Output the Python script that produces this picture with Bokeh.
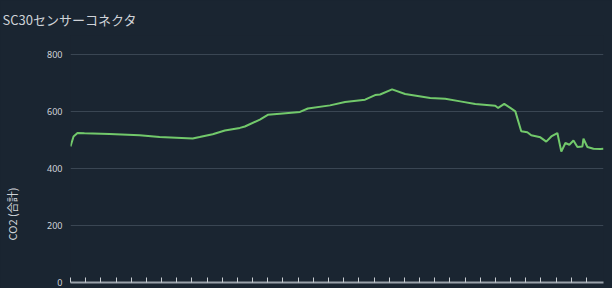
from bokeh.plotting import figure
from bokeh.models import Range1d, FixedTicker, LinearAxis
from bokeh.embed import file_html
from bokeh.resources import INLINE

# time in hours since start (x), CO2 total (ppm)
hours = [0.0, 0.2, 0.46, 0.92, 2.57, 4.55, 5.87, 8.05, 8.51, 9.37, 10.17, 11.16, 11.49,
         12.48, 13.0, 13.8, 15.12, 15.64, 17.1, 18.09, 19.41, 20.07, 20.4, 21.19, 22.05,
         23.7, 24.69, 25.68, 26.67, 27.99, 28.18, 28.58, 28.98, 29.31, 29.70, 30.1, 30.36,
         30.96, 31.35, 31.68, 32.08, 32.34, 32.61, 32.87, 33.14, 33.4, 33.73, 33.8, 34.06,
         34.46, 34.92, 35.12]
co2 = [477, 512, 524, 523, 521, 516, 510, 505, 510, 520, 533, 542, 547,
       571, 588, 592, 598, 610, 621, 633, 641, 657, 659, 677, 661,
       647, 644, 635, 626, 620, 612, 626, 612, 600, 530, 527, 516,
       509, 494, 512, 524, 459, 489, 483, 498, 475, 477, 504, 475,
       469, 468, 469]
x_ticks = list(range(0, 35))
y_ticks = [0, 200, 400, 600, 800]
title_text = "SC30センサーコネクタ"
y_label_text = "CO2 (合計)"

BG = "#1a2531"
TXT = "#cfd3d8"

p = figure(width=612, height=288, output_backend="svg", toolbar_location=None,
           x_range=Range1d(0, 35.12), y_range=Range1d(0, 866),
           min_border_left=70, min_border_right=9, min_border_top=0, min_border_bottom=6)
p.background_fill_color = BG
p.border_fill_color = BG
p.outline_line_color = None

p.title.text = title_text
p.title.align = "left"
p.title.offset = -68
p.title.text_color = TXT
p.title.text_font = "Noto Sans CJK JP"
p.title.text_font_size = "13px"
p.title.text_font_style = "normal"
p.title.standoff = 14

p.line(hours, co2, line_color="#72c96b", line_width=2)

p.xgrid.visible = False
p.ygrid.ticker = FixedTicker(ticks=y_ticks)
p.ygrid.grid_line_color = "#3a4653"
p.ygrid.grid_line_width = 1

p.yaxis.ticker = FixedTicker(ticks=y_ticks)
p.yaxis.axis_line_color = None
p.yaxis.major_tick_line_color = None
p.yaxis.major_tick_in = 0
p.yaxis.major_tick_out = 0
p.yaxis.minor_tick_line_color = None
p.yaxis.major_label_text_color = TXT
p.yaxis.major_label_text_font_size = "9px"
p.yaxis.major_label_text_font = "Noto Sans"
p.yaxis.major_label_standoff = 8

# separate left axis that only carries the axis title; ideographic spaces
# after the text move the visible words toward the lower part of the axis
label_axis = LinearAxis(ticker=FixedTicker(ticks=[]),
                        axis_label=y_label_text + "\u3000" * 10, axis_line_color=None,
                        major_tick_line_color=None, minor_tick_line_color=None,
                        major_tick_in=0, major_tick_out=0,
                        major_label_text_font_size="0px",
                        axis_label_standoff=25, axis_label_text_color=TXT,
                        axis_label_text_font="Noto Sans CJK JP",
                        axis_label_text_font_size="11px",
                        axis_label_text_font_style="normal")
p.add_layout(label_axis, "left")

p.xaxis.ticker = FixedTicker(ticks=x_ticks)
p.xaxis.axis_line_color = "#9aa2ab"
p.xaxis.axis_line_width = 2
p.xaxis.major_tick_line_color = "#c8cdd2"
p.xaxis.major_tick_in = 5
p.xaxis.major_tick_out = 0
p.xaxis.minor_tick_line_color = None
p.xaxis.major_label_text_font_size = "0px"
p.xaxis.major_label_standoff = 0

html = file_html(p, INLINE)
html = html.replace("</head>", "<style>html, body { background-color: %s; margin: 0; }</style>\n</head>" % BG, 1)
open("out.html", "w").write(html)
